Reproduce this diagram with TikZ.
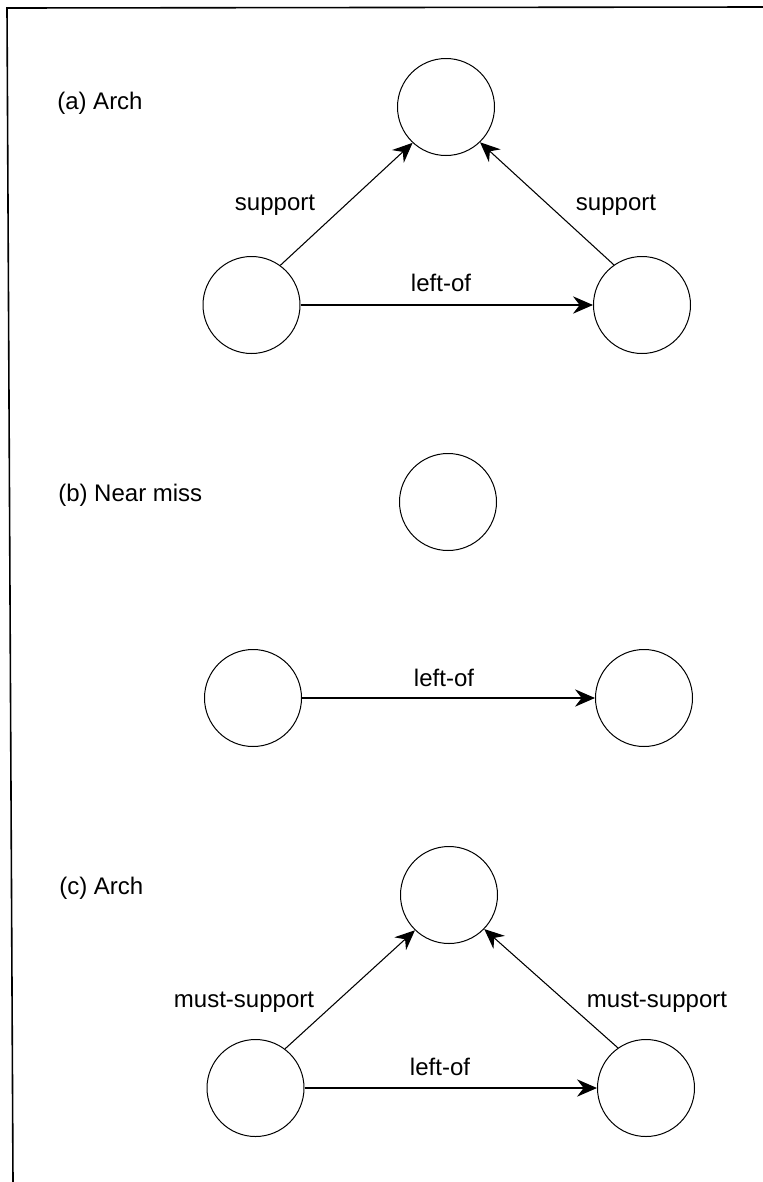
\documentclass[tikz,border=0pt]{standalone}
\usepackage{fontspec}
\setmainfont{Liberation Sans}
\usetikzlibrary{arrows.meta}
\begin{document}
\begin{tikzpicture}[x=0.75pt,y=-0.75pt,
  obj/.style={draw,circle,minimum size=72.75pt,inner sep=0pt,line width=0.75pt},
  lbl/.style={inner sep=0pt,font=\fontsize{18}{21}\selectfont},
  rel/.style={line width=0.8pt,-{Stealth[length=15pt,width=13pt,inset=5pt]}}]
\useasboundingbox (0,0) rectangle (763,1182);
\draw[line width=1.2pt] (13,1182) -- (7,8) -- (763,7);
% (a)
\node[lbl,anchor=west] (la) at (57,103) {(a) Arch};
\node[obj] (Ta) at (446,107) {};
\node[obj] (La) at (251.5,305) {};
\node[obj] (Ra) at (642,305) {};
\draw[rel] (La.54) -- (Ta.227);
\draw[rel] (Ra.125.5) -- (Ta.314);
\draw[rel] (La.east) -- (Ra.west);
\node[lbl] (sa1) at (275,205) {support};
\node[lbl] (sa2) at (616,205) {support};
\node[lbl] (loa) at (441,283) {left-of};
% (b)
\node[lbl,anchor=west] (lb) at (58,495) {(b) Near miss};
\node[obj] (Tb) at (448,502) {};
\node[obj] (Lb) at (253,698) {};
\node[obj] (Rb) at (644,698) {};
\draw[rel] (Lb.east) -- (Rb.west);
\node[lbl] (lob) at (444,678) {left-of};
% (c)
\node[lbl,anchor=west] (lc) at (59,888) {(c) Arch};
\node[obj] (Tc) at (449,895) {};
\node[obj] (Lc) at (255.5,1088) {};
\node[obj] (Rc) at (646,1088) {};
\draw[rel] (Lc.53) -- (Tc.226.6);
\draw[rel] (Rc.125) -- (Tc.316.5);
\draw[rel] (Lc.east) -- (Rc.west);
\node[lbl] (sc1) at (244,1002) {must-support};
\node[lbl] (sc2) at (657,1002) {must-support};
\node[lbl] (loc) at (440,1067) {left-of};
\end{tikzpicture}
\end{document}
